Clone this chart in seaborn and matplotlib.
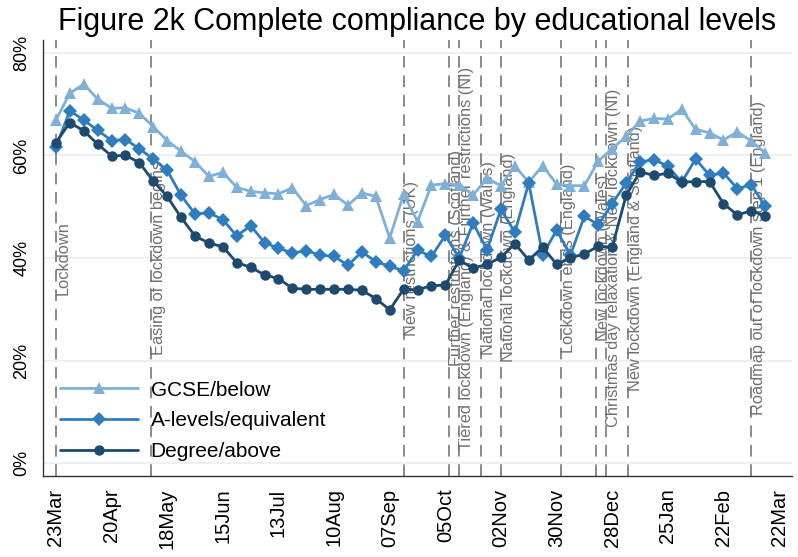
import matplotlib
matplotlib.use("Agg")
import numpy as np
import pandas as pd
import matplotlib.pyplot as plt
import matplotlib.dates as mdates
import seaborn as sns

# --- Data (weekly, first week starting 23 Mar 2020) ---
start_week = "2020-03-23"

gcse_below = [66.9, 72.1, 73.9, 71.0, 69.2, 69.3, 68.2, 65.6, 62.9, 60.8,
              58.8, 55.9, 56.7, 53.8, 53.0, 52.7, 52.5, 53.7, 50.2, 51.4,
              52.4, 50.3, 52.7, 52.0, 43.9, 52.4, 47.1, 54.2, 54.5, 54.3,
              52.3, 55.5, 54.1, 57.9, 54.8, 58.0, 54.4, 54.1, 54.1, 58.9,
              61.3, 63.7, 66.7, 67.2, 67.1, 69.0, 65.1, 64.4, 63.0, 64.6,
              62.8, 60.5]

a_levels = [61.6, 68.7, 66.9, 64.9, 62.9, 63.1, 61.3, 59.3, 57.1, 52.2,
            48.6, 48.8, 47.5, 44.3, 46.3, 43.0, 41.9, 41.0, 41.4, 40.6,
            40.3, 38.6, 41.2, 39.3, 38.4, 37.5, 41.5, 40.3, 44.4, 40.0,
            46.8, 41.6, 49.5, 45.0, 54.6, 40.6, 45.4, 40.6, 48.1, 46.5,
            50.6, 54.6, 58.7, 59.2, 57.9, 54.8, 59.3, 56.1, 56.6, 53.5,
            54.3, 50.1]

degree_above = [62.5, 66.4, 64.8, 62.2, 59.9, 60.0, 58.6, 55.0, 52.0, 47.9,
                44.3, 42.9, 42.2, 39.1, 38.2, 36.7, 36.0, 34.1, 33.9, 33.9,
                33.9, 33.9, 33.7, 32.1, 29.9, 33.9, 33.8, 34.6, 34.7, 39.6,
                38.0, 38.8, 40.1, 42.8, 39.6, 42.1, 38.8, 40.0, 40.8, 42.3,
                42.1, 52.2, 56.8, 56.1, 56.5, 54.8, 54.9, 54.9, 50.6, 48.4,
                49.2, 48.2]

groups = ["GCSE/below", "A-levels/equivalent", "Degree/above"]

event_dates = ["2020-03-23", "2020-05-10", "2020-09-14", "2020-10-07",
               "2020-10-12", "2020-10-23", "2020-11-02", "2020-12-02",
               "2020-12-20", "2020-12-25", "2021-01-05", "2021-03-08"]
event_labels = ["Lockdown",
                "Easing of lockdown begins",
                "New restrictions (UK)",
                "Further restrictions (Scotland)",
                "Tiered lockdown (England) & Further restrictions (NI)",
                "National lockdown (Wales)",
                "National lockdown (England)",
                "Lockdown ends (England)",
                "New lockdown (Wales)",
                "Christmas day relaxation & New lockdown (NI)",
                "New lockdown (England & Scotland)",
                "Roadmap out of lockdown step 1 (England)"]

y_ticks = [0, 20, 40, 60, 80]

# --- Build long-form frame ---
weeks = pd.date_range(start_week, periods=len(gcse_below), freq="7D")
df = pd.DataFrame({
    "week": np.tile(weeks, 3),
    "share": gcse_below + a_levels + degree_above,
    "group": np.repeat(groups, len(weeks)),
})

palette = {"GCSE/below": "#7fb0d8", "A-levels/equivalent": "#2f7dbf", "Degree/above": "#1d4a6e"}
marker_style = {"GCSE/below": ("^", 9), "A-levels/equivalent": ("D", 7.5), "Degree/above": ("o", 7.5)}

sns.set_style("white")
plt.rcParams["font.family"] = ["Liberation Sans", "DejaVu Sans"]
plt.rcParams["text.color"] = "black"

fig = plt.figure(figsize=(7.98, 5.57), dpi=100)
ax = fig.add_axes([43 / 798, 1 - 476 / 557, 749 / 798, 436 / 557])

# horizontal grid
for v in y_ticks:
    ax.axhline(v, color="#e6eef1", linewidth=1.2, zorder=0)

# event lines and labels
for d, lab in zip(event_dates, event_labels):
    d = pd.Timestamp(d)
    ax.axvline(d, color="#8a8a8a", linestyle=(0, (6, 4)), linewidth=1.4, zorder=1)
    ax.text(d, 40, lab, rotation=90, ha="left", va="center",
            color="#707070", fontsize=11.8, zorder=1)

for g in groups:
    sub = df[df["group"] == g]
    m, ms = marker_style[g]
    sns.lineplot(data=sub, x="week", y="share", color=palette[g], marker=m,
                 markersize=ms, markeredgewidth=0, linewidth=2, label=g,
                 ax=ax, zorder=3)

# axes
first = pd.Timestamp("2020-03-23")
last = pd.Timestamp("2021-03-22")
ax.set_xlim(first - pd.Timedelta(days=6.5), last + pd.Timedelta(days=6.5))
ax.set_ylim(-2.5, 82.5)

tick_dates = pd.date_range(first, last, freq="28D")
ax.set_xticks(tick_dates)
ax.xaxis.set_major_formatter(mdates.DateFormatter("%d%b"))
ax.set_yticks(y_ticks)
ax.set_yticklabels([f"{v}%" for v in y_ticks])

ax.tick_params(axis="x", labelsize=14.5, rotation=90, length=6, width=1,
               color="#333333", labelcolor="black", pad=3)
ax.tick_params(axis="y", labelsize=13, length=6, width=1,
               color="#333333", labelcolor="black", pad=3)
for lbl in ax.get_yticklabels():
    lbl.set_rotation(90)
    lbl.set_va("center")

ax.set_xlabel("")
ax.set_ylabel("")
sns.despine(ax=ax)
for s in ["left", "bottom"]:
    ax.spines[s].set_color("#333333")
    ax.spines[s].set_linewidth(1)

ax.set_title("Figure 2k Complete compliance by educational levels",
             fontsize=22, color="black", pad=7)

leg = ax.legend(loc="upper left", bbox_to_anchor=(0.0227, 0.219), frameon=False,
                fontsize=15, handlelength=3.75, handletextpad=0.6, labelspacing=0.57,
                borderpad=0, borderaxespad=0)
for t in leg.get_texts():
    t.set_color("black")

fig.savefig("out.png", dpi=100)
